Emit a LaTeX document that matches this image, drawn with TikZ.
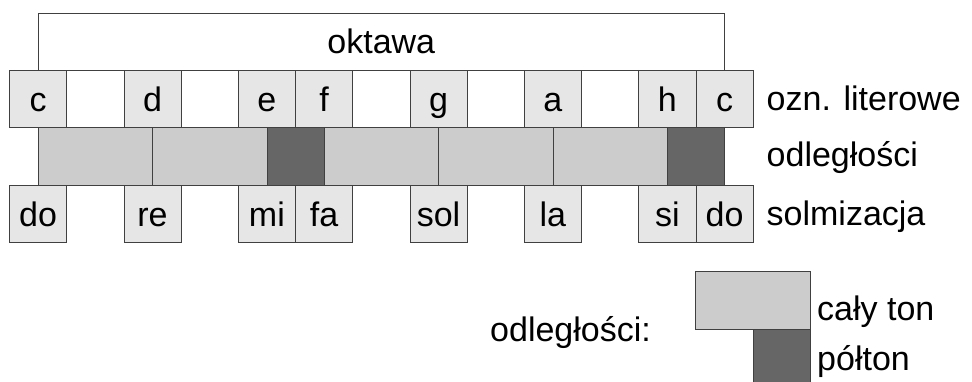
\documentclass[tikz,border=0pt]{standalone}
\usepackage{fontspec}
\setmainfont{Liberation Sans}
\definecolor{keyfill}{HTML}{E6E6E6}
\definecolor{wholefill}{HTML}{CCCCCC}
\definecolor{halffill}{HTML}{666666}
\definecolor{linec}{HTML}{404040}
\begin{document}
\begin{tikzpicture}[x=1pt,y=-1pt,
  every node/.style={font=\fontsize{34}{40}\selectfont},
  key/.style={draw=linec, line width=0.8pt, fill=keyfill, minimum width=57.2pt, minimum height=57.3pt, inner sep=0pt, text height=25pt, text depth=0pt},
  gapkey/.style={key, fill=white},
  whole/.style={draw=linec, line width=0.8pt, fill=wholefill, minimum width=114.4pt, minimum height=57.3pt, inner sep=0pt},
  half/.style={whole, fill=halffill, minimum width=57.2pt},
  lbl/.style={anchor=base west, inner sep=0pt},
  bracket/.style={draw=linec, line width=0.8pt}
]
\useasboundingbox (0,0) rectangle (972,381);
% middle row (intervals)
\node[whole] (w1) at (95.3,156.45) {};
\node[whole] (w2) at (209.7,156.45) {};
\node[half]  (s1) at (295.5,156.45) {};
\node[whole] (w3) at (381.3,156.45) {};
\node[whole] (w4) at (495.7,156.45) {};
\node[whole] (w5) at (610.1,156.45) {};
\node[half]  (s2) at (695.9,156.45) {};
% top row
\node[key] (t0) at (38.1,99.15) {c};
\node[gapkey] (t1) at (95.3,99.15) {};
\node[key] (t2) at (152.5,99.15) {d};
\node[gapkey] (t3) at (209.7,99.15) {};
\node[key] (t4) at (266.9,99.15) {e};
\node[key] (t5) at (324.1,99.15) {f};
\node[gapkey] (t6) at (381.3,99.15) {};
\node[key] (t7) at (438.5,99.15) {g};
\node[gapkey] (t8) at (495.7,99.15) {};
\node[key] (t9) at (552.9,99.15) {a};
\node[gapkey] (t10) at (610.1,99.15) {};
\node[key] (t11) at (667.3,99.15) {h};
\node[key] (t12) at (724.5,99.15) {c};
% bottom row
\node[key] (b0) at (38.1,213.75) {do};
\node[key] (b2) at (152.5,213.75) {re};
\node[key] (b4) at (266.9,213.75) {mi};
\node[key] (b5) at (324.1,213.75) {fa};
\node[key] (b7) at (438.5,213.75) {sol};
\node[key] (b9) at (552.9,213.75) {la};
\node[key] (b11) at (667.3,213.75) {si};
\node[key] (b12) at (724.5,213.75) {do};
% octave bracket
\coordinate (oct) at (381.3,13.5);
\draw[bracket] (t0.north) |- (oct) -| (t12.north);
\node[anchor=base, inner sep=0pt] (oktawa) at (381.3,53.3) {oktawa};
% row labels
\node[lbl] (l1) at (766.5,110) {ozn. literowe};
\node[lbl] (l2) at (766.5,166.7) {odległości};
\node[lbl] (l3) at (766.5,225) {solmizacja};
% legend
\node[whole] (lw) at (753,300.35) {};
\node[half, minimum height=53pt, anchor=north] (lh) at (781.65,329) {};
\node[lbl] (lwt) at (817,320) {cały ton};
\node[lbl] (lht) at (817,370) {półton};
\node[lbl] (lt) at (490,341.7) {odległości:};
\end{tikzpicture}
\end{document}
